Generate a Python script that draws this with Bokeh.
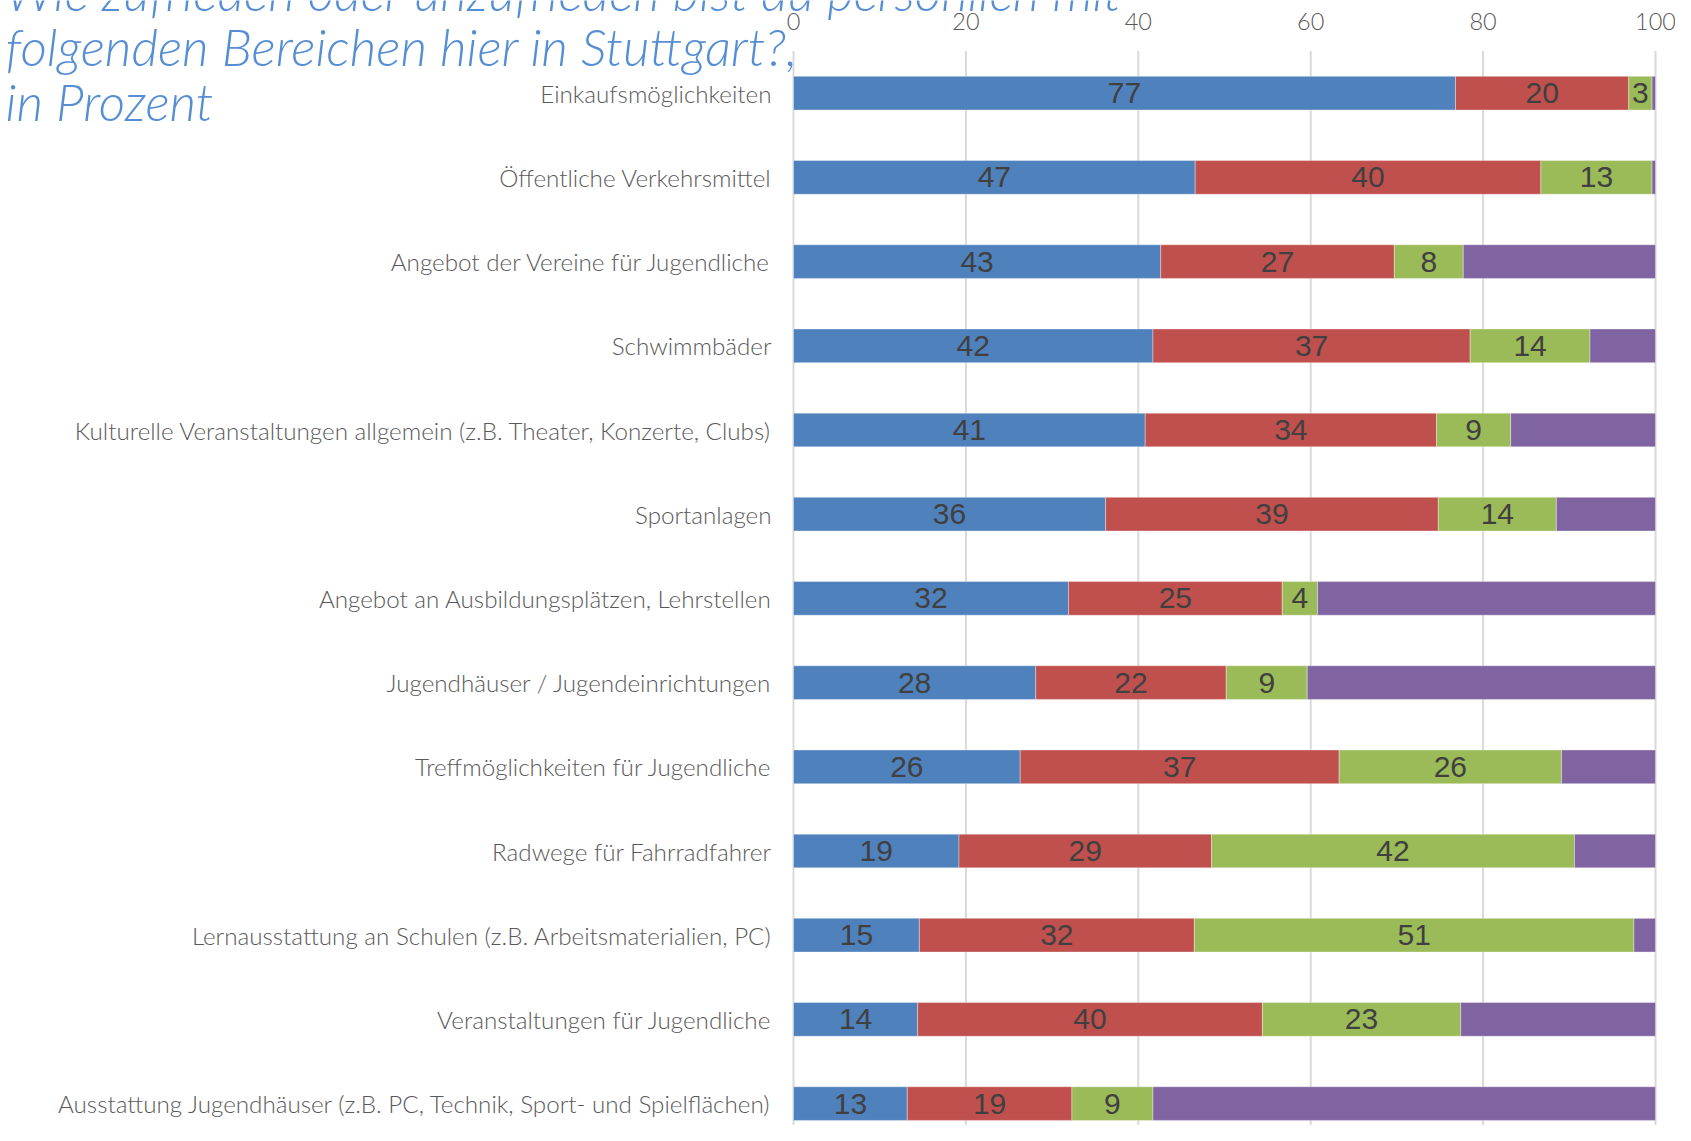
from bokeh.plotting import figure
from bokeh.models import Range1d, ColumnDataSource
from bokeh.embed import file_html
from bokeh.resources import INLINE
from bokeh.core.properties import value

title_lines = [
    "Wie zufrieden oder unzufrieden bist du persönlich mit",
    "folgenden Bereichen hier in Stuttgart?,",
    "in Prozent",
]

categories = [
    "Einkaufsmöglichkeiten",
    "Öffentliche Verkehrsmittel",
    "Angebot der Vereine für Jugendliche",
    "Schwimmbäder",
    "Kulturelle Veranstaltungen allgemein (z.B. Theater, Konzerte, Clubs)",
    "Sportanlagen",
    "Angebot an Ausbildungsplätzen, Lehrstellen",
    "Jugendhäuser / Jugendeinrichtungen",
    "Treffmöglichkeiten für Jugendliche",
    "Radwege für Fahrradfahrer",
    "Lernausstattung an Schulen (z.B. Arbeitsmaterialien, PC)",
    "Veranstaltungen für Jugendliche",
    "Ausstattung Jugendhäuser (z.B. PC, Technik, Sport- und Spielflächen)",
]

serie_blau = [76.8, 46.6, 42.6, 41.7, 40.8, 36.2, 31.9, 28.1, 26.3, 19.2, 14.6, 14.4, 13.2]
serie_rot = [20.1, 40.1, 27.1, 36.8, 33.8, 38.6, 24.8, 22.1, 37.0, 29.3, 31.9, 40.0, 19.1]
serie_gruen = [2.7, 12.9, 8.0, 13.9, 8.6, 13.7, 4.1, 9.4, 25.8, 42.1, 51.0, 23.0, 9.4]
serie_lila = [0.4, 0.4, 22.3, 7.6, 16.8, 11.5, 39.2, 40.4, 10.9, 9.4, 2.5, 22.6, 58.3]

x_ticks = [0, 20, 40, 60, 80, 100]

series = [serie_blau, serie_rot, serie_gruen, serie_lila]
colors = ["#4F81BD", "#C0504D", "#9BBB59", "#8064A2"]
labelled = [True, True, True, False]

positions = list(range(1, len(categories) + 1))

LABEL_FONT = "Lato Light"
TITLE_FONT = "Lato Light"

# picture geometry (figure drawn at the picture's top-left corner)
FIG_W, FIG_H = 1675, 1125
ZERO_X = 793.0                 # x pixel of value 0
PX_PER_UNIT_X = (1655.0 - ZERO_X) / 100.0
PX_PER_ROW = 84.2              # pixels per category row
HALF_Y = 50.6                  # y pixel of row value 0.5 (top of plot area)

def vx(px):
    return (px - ZERO_X) / PX_PER_UNIT_X

def vy(py):
    return 0.5 + (py - HALF_Y) / PX_PER_ROW

x_lo, x_hi = vx(0), vx(FIG_W)
y_top, y_bot = vy(0), vy(FIG_H)

p = figure(
    width=FIG_W, height=FIG_H,
    x_range=Range1d(x_lo, x_hi),
    y_range=Range1d(y_bot, y_top),
    output_backend="svg", toolbar_location=None,
    x_axis_location=None, y_axis_location=None,
    min_border=0, min_border_left=0, min_border_right=0,
    min_border_top=0, min_border_bottom=0,
)
p.outline_line_color = None
p.background_fill_color = "white"
p.border_fill_color = "white"
p.grid.visible = False

# vertical grid lines
p.segment(x0=x_ticks, y0=[0.5] * len(x_ticks), x1=x_ticks, y1=[y_bot] * len(x_ticks),
          line_color="#D9D9D9", line_width=2)

# x tick labels (top)
p.text(x=x_ticks, y=[vy(21.0)] * len(x_ticks), text=[str(t) for t in x_ticks],
       text_font=value(LABEL_FONT), text_font_size="23.5px", text_color="#595959",
       text_align="center", text_baseline="middle")

# category labels (left)
p.text(x=[vx(771)] * len(categories), y=positions, text=categories,
       text_font=value(LABEL_FONT), text_font_size="24.2px", text_color="#595959",
       text_align="right", text_baseline="middle")

left = [0.0] * len(categories)
for vals, col, lab in zip(series, colors, labelled):
    right = [l + v for l, v in zip(left, vals)]
    src = ColumnDataSource(dict(
        y=positions, left=left, right=right,
        mid=[(l + r) / 2 for l, r in zip(left, right)],
        txt=[f"{v:.0f}" for v in vals],
    ))
    p.hbar(y="y", left="left", right="right", height=0.40, source=src,
           fill_color=col, line_color="white", line_alpha=0.35, line_width=1)
    if lab:
        p.text(x="mid", y="y", text="txt", source=src,
               text_font=value("Liberation Sans"), text_font_size="30px",
               text_color="#404040", text_align="center", text_baseline="middle")
    left = right

# title
title_mid = [vy(-9.8), vy(45.2), vy(100.2)]
p.text(x=[vx(5)] * 3, y=title_mid, text=title_lines,
       text_font=value(TITLE_FONT), text_font_style="italic", text_font_size="51.5px",
       text_color="#558ED5", text_align="left", text_baseline="middle")

open("out.html", "w").write(file_html(p, INLINE))
